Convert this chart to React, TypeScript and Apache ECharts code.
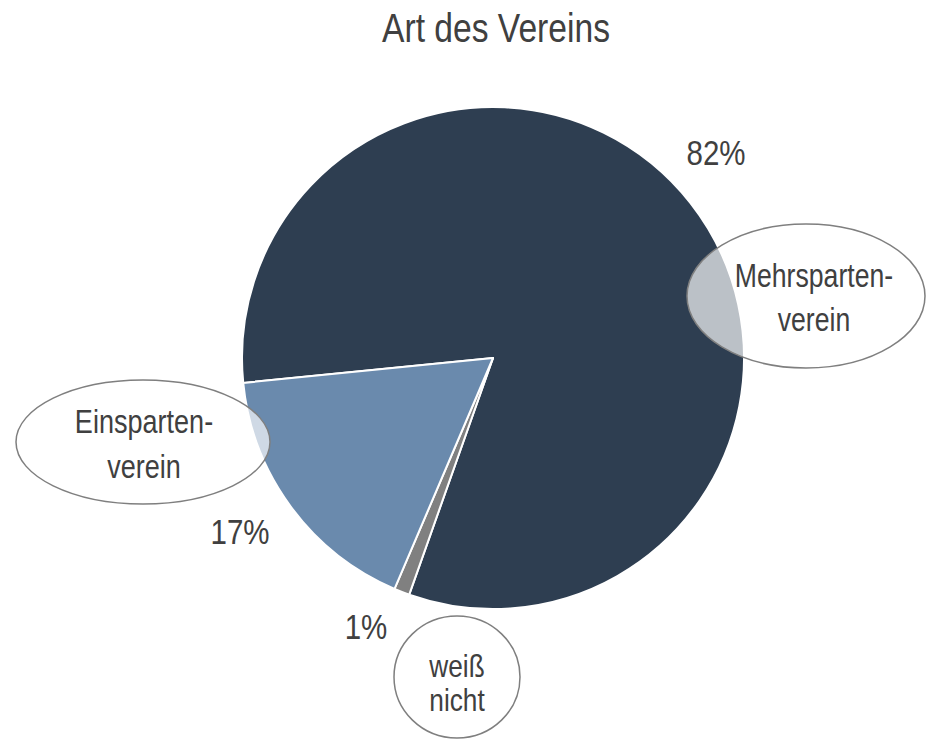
import React, { useEffect, useRef } from "react";
import * as echarts from "echarts";

const titleText = "Art des Vereins";
const categories = ["Mehrspartenverein", "weiß nicht", "Einspartenverein"];
const values = [82, 1, 17];
const colors = ["#2e3e51", "#808080", "#6a8aad"];
const calloutTexts = ["Mehrsparten-\nverein", "weiß\nnicht", "Einsparten-\nverein"];

const FONT = "'Liberation Sans', Arial, sans-serif";
const TEXT_COLOR = "#404040";
const NARROW = 0.82; // emulate Arial Narrow

// label placements (pixel positions for each slice's percentage label)
const labelPos = [
  [716, 152],
  [366, 626],
  [240, 531],
];

// callout ellipse geometry per slice
const ellipses = [
  { cx: 806, cy: 296, rx: 119, ry: 72, tx: 814, ty: 298, lh: 44, fs: 32.5 },
  { cx: 457, cy: 677, rx: 63, ry: 61, tx: 457, ty: 683, lh: 34, fs: 32 },
  { cx: 143, cy: 442, rx: 127, ry: 62, tx: 144, ty: 444, lh: 45, fs: 33 },
];

export default function App() {
  const ref = useRef<HTMLDivElement>(null);
  useEffect(() => {
    if (!ref.current) return;
    const chart = echarts.init(ref.current, null, { renderer: "svg" });
    const total = values.reduce((a, b) => a + b, 0);
    const graphics: any[] = [
      {
        type: "text",
        z: 11,
        x: 496,
        y: 28,
        scaleX: NARROW,
        style: {
          text: titleText,
          fill: TEXT_COLOR,
          font: `41px ${FONT}`,
          textAlign: "center",
          textVerticalAlign: "middle",
        },
      },
    ];
    ellipses.forEach((e, i) => {
      graphics.push({
        type: "ellipse",
        z: 10,
        shape: { cx: e.cx, cy: e.cy, rx: e.rx, ry: e.ry },
        style: { fill: "rgba(255,255,255,0.68)", stroke: "#7f7f7f", lineWidth: 1.5 },
      });
      graphics.push({
        type: "text",
        z: 11,
        x: e.tx,
        y: e.ty,
        scaleX: NARROW,
        style: {
          text: calloutTexts[i],
          fill: TEXT_COLOR,
          font: `${e.fs}px ${FONT}`,
          textAlign: "center",
          textVerticalAlign: "middle",
          lineHeight: e.lh,
        },
      });
      graphics.push({
        type: "text",
        z: 11,
        x: labelPos[i][0],
        y: labelPos[i][1],
        scaleX: NARROW,
        style: {
          text: Math.round((values[i] / total) * 100) + "%",
          fill: TEXT_COLOR,
          font: `36px ${FONT}`,
          textAlign: "center",
          textVerticalAlign: "middle",
        },
      });
    });
    chart.setOption({
      animation: false,
      backgroundColor: "#ffffff",
      series: [
        {
          type: "pie",
          center: [493, 358],
          radius: 251,
          startAngle: 185.7,
          clockwise: true,
          itemStyle: { borderColor: "#ffffff", borderWidth: 2 },
          label: { show: false },
          labelLine: { show: false },
          emphasis: { disabled: true },
          data: categories.map((c, i) => ({
            name: c,
            value: values[i],
            itemStyle: { color: colors[i] },
          })),
        },
      ],
      graphic: graphics,
    });
    return () => chart.dispose();
  }, []);
  return (
    <div
      ref={ref}
      style={{ position: "fixed", left: 0, top: 0, width: 927, height: 739 }}
    />
  );
}
